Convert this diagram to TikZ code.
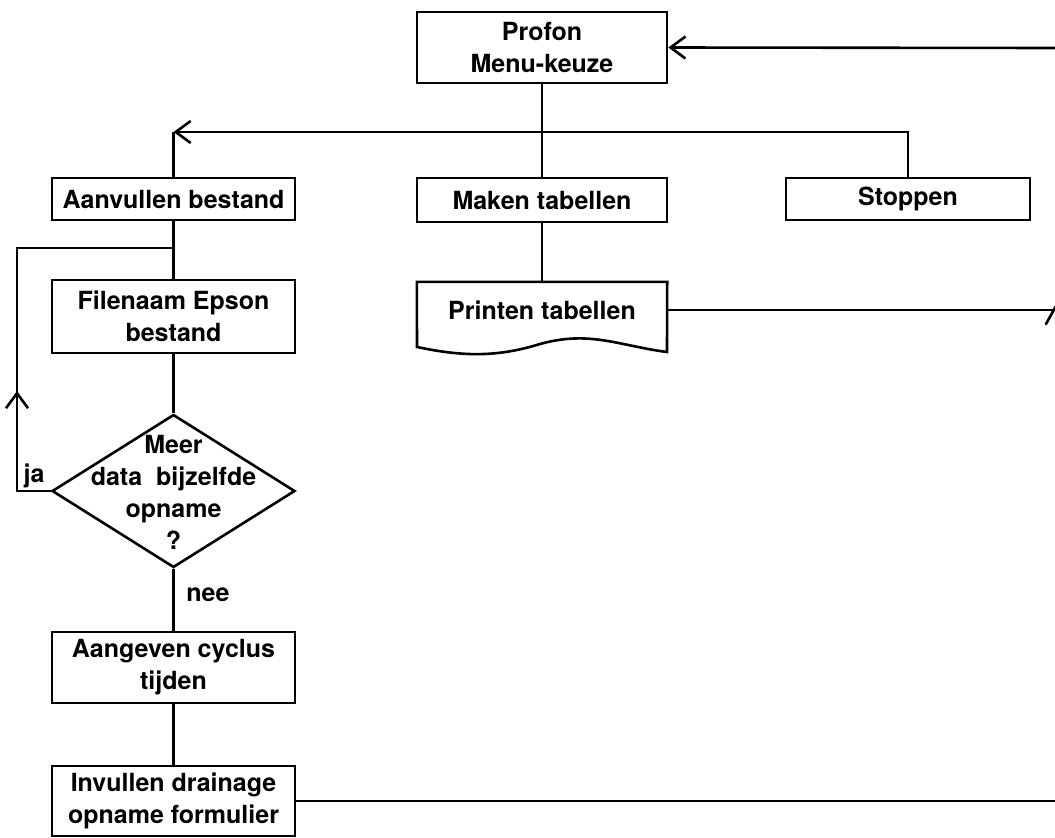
\documentclass[tikz,border=0pt]{standalone}
\usepackage{fontspec}
\setmainfont{TeX Gyre Heros}
\usetikzlibrary{arrows.meta,shapes.geometric}
\begin{document}
\begin{tikzpicture}[x=1pt,y=-1pt,
  every node/.style={font=\fontsize{25}{32}\selectfont\bfseries, align=center},
  box/.style={draw, line width=2.6pt, rectangle, inner sep=0pt},
  ln/.style={line width=2.6pt},
  arr/.style={line width=2.6pt, -{Straight Barb[length=15pt,width=22pt,line width=2.6pt]}}]
\useasboundingbox[fill=white] (0,0) rectangle (1055,838);
% nodes
\node[box, minimum width=250pt, minimum height=71pt] (menu) at (542,47.5) {Profon\\Menu-keuze};
\node[box, minimum width=243pt, minimum height=42pt] (aanv) at (173.5,199) {Aanvullen bestand};
\node[box, minimum width=250pt, minimum height=44pt] (maken) at (542,200) {Maken tabellen};
\node[box, minimum width=244pt, minimum height=42pt] (stop) at (908,199) {Stoppen};
\node[box, minimum width=243pt, minimum height=73pt] (file) at (173.5,316.5) {Filenaam Epson\\bestand};
\node[rectangle, inner sep=0pt, minimum width=250pt, minimum height=56pt] (printen) at (542,310) {Printen tabellen};
\node[draw, line width=2.6pt, diamond, inner sep=0pt, minimum width=243pt, minimum height=153pt] (q) at (173.5,491) {};
\node (qt) at (173.5,492) {Meer\\data\ \ bijzelfde\\opname\\?};
\node[box, minimum width=243pt, minimum height=71pt] (aang) at (173.5,667.5) {Aangeven cyclus\\tijden};
\node[box, minimum width=243pt, minimum height=70pt] (inv) at (173.5,801) {Invullen drainage\\opname formulier};
\node (ja) at (34,476) {ja};
\node (nee) at (208,595) {nee};
% document shape of printen
\draw[ln] (printen.north west) -- (printen.north east) -- (667,352)
  .. controls (620,346) and (590,330) .. (540,344)
  .. controls (495,358) and (460,356) .. (417,347) -- cycle;
% coordinates
\coordinate (j1) at (542,132);
\coordinate (corner) at (173.5,132);
\coordinate (stopup) at (908,132);
\coordinate (lj) at (173.5,248);
\coordinate (ltop) at (17,248);
\coordinate (lbot) at (17,491);
\coordinate (larr) at (17,391);
\coordinate (rt) at (1056,48);
\coordinate (rp) at (1056,310);
\coordinate (rb) at (1056,801);
\coordinate (sa) at (1046,324);
\coordinate (sb) at (1056,306);
% connectors
\draw[arr] (rt) -- (menu.east);
\draw[ln] (menu.south) -- (maken.north);
\draw[arr] (stop.north) -- (stopup) -- (corner);
\draw[ln] (corner) -- (aanv.north);
\draw[ln] (maken.south) -- (printen.north);
\draw[ln] (printen.east) -- (rp);
\draw[ln, line cap=round] (sa) -- (sb);
\draw[ln] (aanv.south) -- (file.north);
\draw[ln] (file.south) -- (q.north);
\draw[ln] (q.west) -- (lbot) -- (ltop) -- (lj);
\draw[arr] (lbot) -- (larr);
\draw[ln] (q.south) -- (aang.north);
\draw[ln] (aang.south) -- (inv.north);
\draw[ln] (inv.east) -- (rb);
\end{tikzpicture}
\end{document}
